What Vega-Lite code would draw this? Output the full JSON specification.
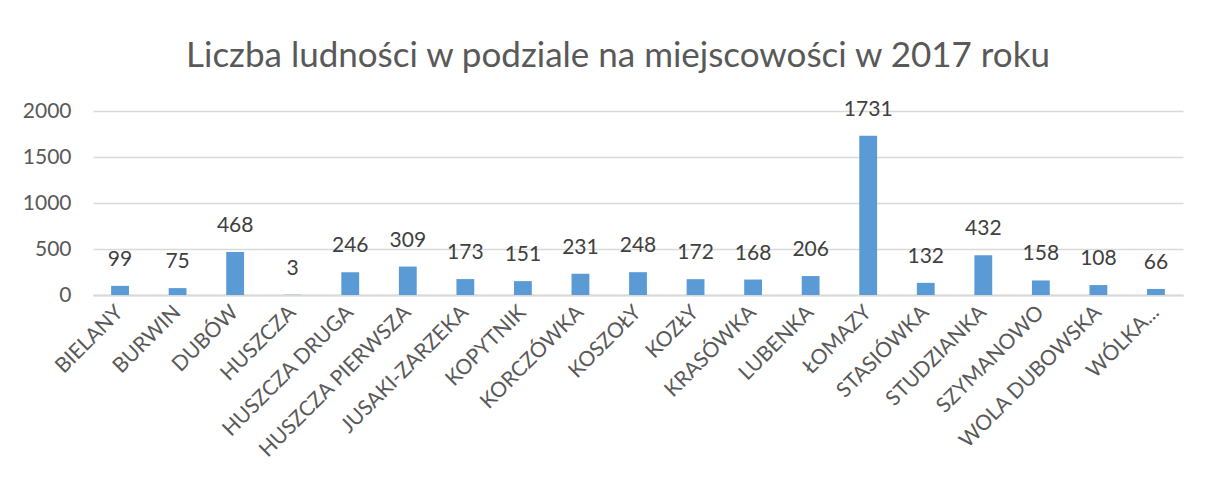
{
  "$schema": "https://vega.github.io/schema/vega-lite/v6.json",
  "width": 1090,
  "height": 184,
  "padding": {"left": 22, "top": 38, "right": 15, "bottom": 5},
  "background": "white",
  "title": {
    "text": "Liczba ludności w podziale na miejscowości w 2017 roku",
    "font": "Lato",
    "fontSize": 35,
    "fontWeight": "normal",
    "color": "#595959",
    "anchor": "middle",
    "dx": -20,
    "offset": 25
  },
  "config": {
    "view": {"stroke": null},
    "text": {"font": "Lato"}
  },
  "data": {
    "values": [
      {"miejscowosc": "BIELANY", "ludnosc": 99},
      {"miejscowosc": "BURWIN", "ludnosc": 75},
      {"miejscowosc": "DUBÓW", "ludnosc": 468},
      {"miejscowosc": "HUSZCZA", "ludnosc": 3},
      {"miejscowosc": "HUSZCZA DRUGA", "ludnosc": 246},
      {"miejscowosc": "HUSZCZA PIERWSZA", "ludnosc": 309},
      {"miejscowosc": "JUSAKI-ZARZEKA", "ludnosc": 173},
      {"miejscowosc": "KOPYTNIK", "ludnosc": 151},
      {"miejscowosc": "KORCZÓWKA", "ludnosc": 231},
      {"miejscowosc": "KOSZOŁY", "ludnosc": 248},
      {"miejscowosc": "KOZŁY", "ludnosc": 172},
      {"miejscowosc": "KRASÓWKA", "ludnosc": 168},
      {"miejscowosc": "LUBENKA", "ludnosc": 206},
      {"miejscowosc": "ŁOMAZY", "ludnosc": 1731},
      {"miejscowosc": "STASIÓWKA", "ludnosc": 132},
      {"miejscowosc": "STUDZIANKA", "ludnosc": 432},
      {"miejscowosc": "SZYMANOWO", "ludnosc": 158},
      {"miejscowosc": "WOLA DUBOWSKA", "ludnosc": 108},
      {"miejscowosc": "WÓLKA...", "ludnosc": 66}
    ]
  },
  "encoding": {
    "x": {
      "field": "miejscowosc",
      "type": "nominal",
      "sort": null,
      "title": null,
      "scale": {"paddingInner": 0.69, "paddingOuter": 0.315},
      "axis": {
        "labelAngle": -45,
        "labelAlign": "right",
        "labelBaseline": "middle",
        "labelFont": "Lato",
        "labelFontSize": 21,
        "labelColor": "#595959",
        "labelPadding": 14,
        "labelLimit": 0,
        "ticks": false,
        "domainColor": "#d9d9d9",
        "domainWidth": 2,
        "labelOverlap": false
      }
    },
    "y": {
      "field": "ludnosc",
      "type": "quantitative",
      "title": null,
      "scale": {"domain": [0, 2000]},
      "axis": {
        "values": [0, 500, 1000, 1500, 2000],
        "format": "d",
        "labelFont": "Lato",
        "labelFontSize": 21,
        "labelColor": "#595959",
        "labelPadding": 22,
        "ticks": false,
        "domain": false,
        "gridColor": "#d9d9d9",
        "gridWidth": 1.5
      }
    }
  },
  "layer": [
    {"mark": {"type": "bar", "color": "#5B9BD5"}},
    {
      "mark": {"type": "text", "dy": -26, "baseline": "middle", "fontSize": 21, "color": "#404040", "font": "Lato"},
      "encoding": {"text": {"field": "ludnosc", "type": "quantitative", "format": "d"}}
    }
  ]
}
